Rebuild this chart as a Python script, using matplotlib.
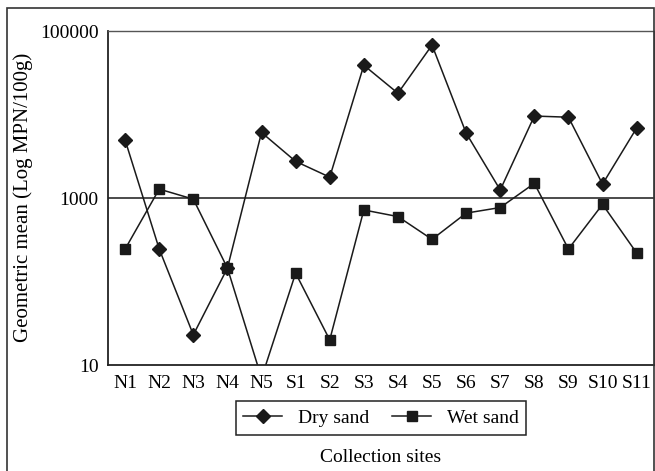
import matplotlib
matplotlib.use('Agg')
from matplotlib import pyplot as plt
from matplotlib.patches import Rectangle

sites = ['N1', 'N2', 'N3', 'N4', 'N5', 'S1', 'S2', 'S3', 'S4', 'S5',
         'S6', 'S7', 'S8', 'S9', 'S10', 'S11']
dry_sand = [4950, 245, 23, 145, 6100, 2750, 1780, 39000, 18000, 68000,
            6000, 1250, 9600, 9300, 1470, 6900]
wet_sand = [245, 1280, 970, 145, 7, 126, 20, 720, 600, 320,
            660, 770, 1500, 245, 840, 220]


def main():
    plt.rcParams['font.family'] = ['Liberation Serif', 'DejaVu Serif']
    plt.rcParams['font.size'] = 14

    fig = plt.figure(figsize=(6.55, 4.71), dpi=100)
    ax = fig.add_axes([0.165, 0.225, 0.833, 0.709])

    # outer frame round the whole figure
    fig.patches.append(Rectangle((7 / 655, -0.05), 647 / 655, 1.05 - 8 / 471,
                                 transform=fig.transFigure, fill=False,
                                 edgecolor='#333333', linewidth=1.2))

    x = list(range(len(sites)))
    ax.plot(x, dry_sand, marker='D', markersize=7.5, color='#1a1a1a',
            linewidth=1.1, label='Dry sand')
    ax.plot(x, wet_sand, marker='s', markersize=7, color='#1a1a1a',
            linewidth=1.1, label='Wet sand')

    ax.set_yscale('log')
    ax.set_ylim(10, 100000)
    ax.set_xlim(-0.5, 15.5)
    ax.set_yticks([10, 1000, 100000])
    ax.set_yticklabels(['10', '1000', '100000'])
    ax.yaxis.set_minor_locator(matplotlib.ticker.NullLocator())
    ax.set_xticks(x)
    ax.set_xticklabels(sites)
    ax.tick_params(length=0, pad=7)
    ax.axhline(1000, color='#1a1a1a', linewidth=1.1)

    for side in ['left', 'bottom']:
        ax.spines[side].set_linewidth(1.3)
        ax.spines[side].set_color('#222222')
    for side in ['top', 'right']:
        ax.spines[side].set_linewidth(1.0)
        ax.spines[side].set_color('#555555')

    leg = fig.legend(loc='center', bbox_to_anchor=(381 / 655, 1 - 418 / 471),
                     ncol=2, fancybox=False, edgecolor='#222222',
                     framealpha=1, handlelength=2.0, columnspacing=1.2,
                     borderpad=0.4)
    leg.get_frame().set_linewidth(1.1)

    fig.text(381 / 655, 1 - 457 / 471, 'Collection sites', ha='center', va='center')
    fig.text(23 / 655, 1 - 197 / 471, 'Geometric mean (Log MPN/100g)',
             rotation=90, ha='center', va='center', fontsize=15)

    fig.savefig('out.png', dpi=100)


if __name__ == '__main__':
    main()
